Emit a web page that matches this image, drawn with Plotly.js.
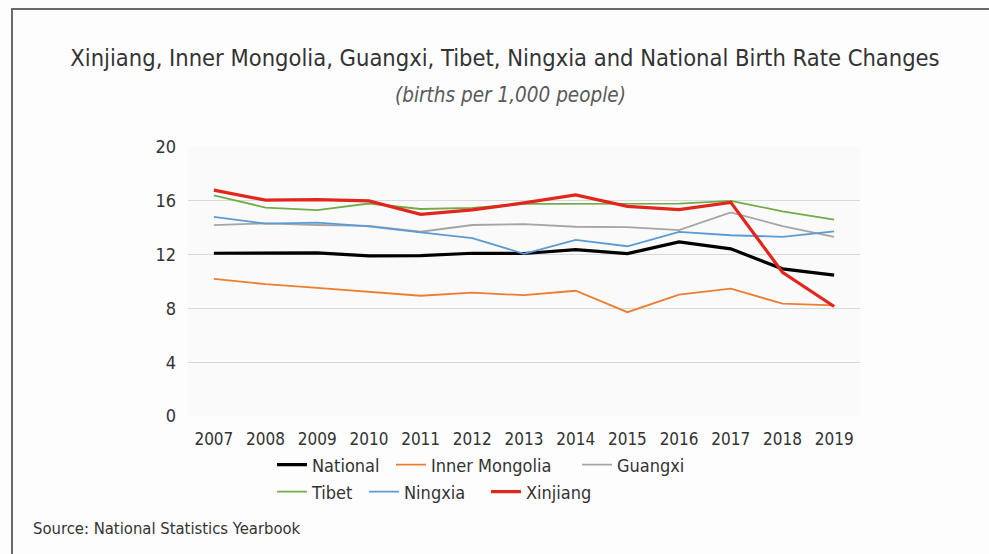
<!DOCTYPE html>
<html>
<head>
<meta charset="utf-8">
<script src="https://cdn.plot.ly/plotly-3.0.1.min.js"></script>
<style>
  html, body { margin: 0; padding: 0; background: #fdfdfd; overflow: hidden; }
  #chart { width: 989px; height: 554px; position: absolute; left: 0; top: 0; }
  #frame { position: absolute; left: 11px; top: 8px; width: 1100px; height: 700px;
           border-top: 2px solid #6a6a6a; border-left: 2px solid #6a6a6a; pointer-events: none; }
</style>
</head>
<body>
<div id="chart"></div>
<div id="frame"></div>
<script>
// ---- data (births per 1,000 people) ----
const years = ['2007','2008','2009','2010','2011','2012','2013','2014','2015','2016','2017','2018','2019'];
const seriesNames = ['National','Inner Mongolia','Guangxi','Tibet','Ningxia','Xinjiang'];
const national      = [12.10, 12.14, 12.13, 11.90, 11.93, 12.10, 12.08, 12.37, 12.07, 12.95, 12.43, 10.94, 10.48];
const innerMongolia = [10.20,  9.80,  9.53,  9.26,  8.94,  9.17,  8.98,  9.31,  7.72,  9.03,  9.47,  8.35,  8.23];
const guangxi       = [14.19, 14.32, 14.20, 14.13, 13.70, 14.20, 14.27, 14.07, 14.05, 13.82, 15.14, 14.12, 13.31];
const tibet         = [16.40, 15.50, 15.30, 15.80, 15.39, 15.48, 15.77, 15.76, 15.75, 15.79, 16.00, 15.22, 14.60];
const ningxia       = [14.80, 14.30, 14.37, 14.10, 13.65, 13.23, 12.06, 13.10, 12.62, 13.69, 13.44, 13.32, 13.72];
const xinjiang      = [16.79, 16.05, 16.08, 15.99, 14.99, 15.32, 15.84, 16.44, 15.59, 15.34, 15.88, 10.69,  8.14];
const yTicks = [0, 4, 8, 12, 16, 20];

const FONT = '"DejaVu Sans Condensed", "Liberation Sans Narrow", "Roboto", sans-serif';
const TXT = '#333333';

const values = [national, innerMongolia, guangxi, tibet, ningxia, xinjiang];
const colors = ['#000000', '#ED7D31', '#A5A5A5', '#70AD47', '#5B9BD5', '#E3261C'];
const widths = [3.2, 1.8, 1.8, 1.8, 1.8, 3.2];
const legendIds = ['legend', 'legend2', 'legend3', 'legend4', 'legend5', 'legend6'];

const traces = seriesNames.map((name, i) => ({
  type: 'scatter',
  mode: 'lines',
  name: name,
  x: years,
  y: values[i],
  line: { color: colors[i], width: widths[i] },
  legend: legendIds[i],
  hoverinfo: 'skip'
}));

// legend placement (container coordinates, px)
const legendX = [272, 391, 577, 272, 364, 486];
const legendY = [465, 465, 465, 492, 492, 492];
function legendCfg(i) {
  return {
    orientation: 'h',
    xref: 'container', yref: 'container',
    x: legendX[i] / 989, y: 1 - legendY[i] / 554,
    xanchor: 'left', yanchor: 'middle',
    bgcolor: 'rgba(0,0,0,0)', borderwidth: 0,
    font: { family: FONT, size: 18, color: TXT }
  };
}

// plot area in px: x 188..860, y 147..416
const PL = 188, PW = 672, PT = 147, PH = 269;
const px2paperX = (px) => (px - PL) / PW;
const px2paperY = (py) => (PT + PH - py) / PH;

const layout = {
  width: 989, height: 554,
  paper_bgcolor: '#fdfdfd',
  plot_bgcolor: '#fafafa',
  margin: { l: PL, r: 989 - PL - PW, t: PT, b: 554 - PT - PH },
  showlegend: true,
  title: {
    text: 'Xinjiang, Inner Mongolia, Guangxi, Tibet, Ningxia and National Birth Rate Changes',
    xref: 'container', yref: 'container',
    x: 505 / 989, xanchor: 'center',
    y: 1 - 58 / 554, yanchor: 'middle',
    font: { family: FONT, size: 23.5, color: TXT }
  },
  xaxis: {
    type: 'category',
    range: [-0.5, 12.5],
    showgrid: false, zeroline: false, showline: false,
    ticks: '', ticklabelstandoff: 11,
    tickfont: { family: FONT, size: 17, color: TXT }
  },
  yaxis: {
    range: [0, 20],
    tickvals: yTicks,
    ticktext: yTicks.map(String),
    showgrid: true, gridcolor: '#d9d9d9', gridwidth: 1,
    zeroline: false, showline: false,
    ticks: '', ticklabelstandoff: 11,
    tickfont: { family: FONT, size: 18, color: TXT }
  },
  annotations: [
    {
      text: '<i>(births per 1,000 people)</i>',
      xref: 'paper', yref: 'paper',
      x: px2paperX(510), y: px2paperY(95), xanchor: 'center', yanchor: 'middle',
      showarrow: false,
      font: { family: FONT, size: 20.5, color: '#595959' }
    },
    {
      text: 'Source: National Statistics Yearbook',
      xref: 'paper', yref: 'paper',
      x: px2paperX(31), y: px2paperY(528), xanchor: 'left', yanchor: 'middle',
      showarrow: false,
      font: { family: FONT, size: 16.5, color: TXT }
    }
  ]
};
legendIds.forEach((id, i) => { layout[id] = legendCfg(i); });

Plotly.newPlot('chart', traces, layout, { staticPlot: true, displayModeBar: false });
</script>
</body>
</html>
